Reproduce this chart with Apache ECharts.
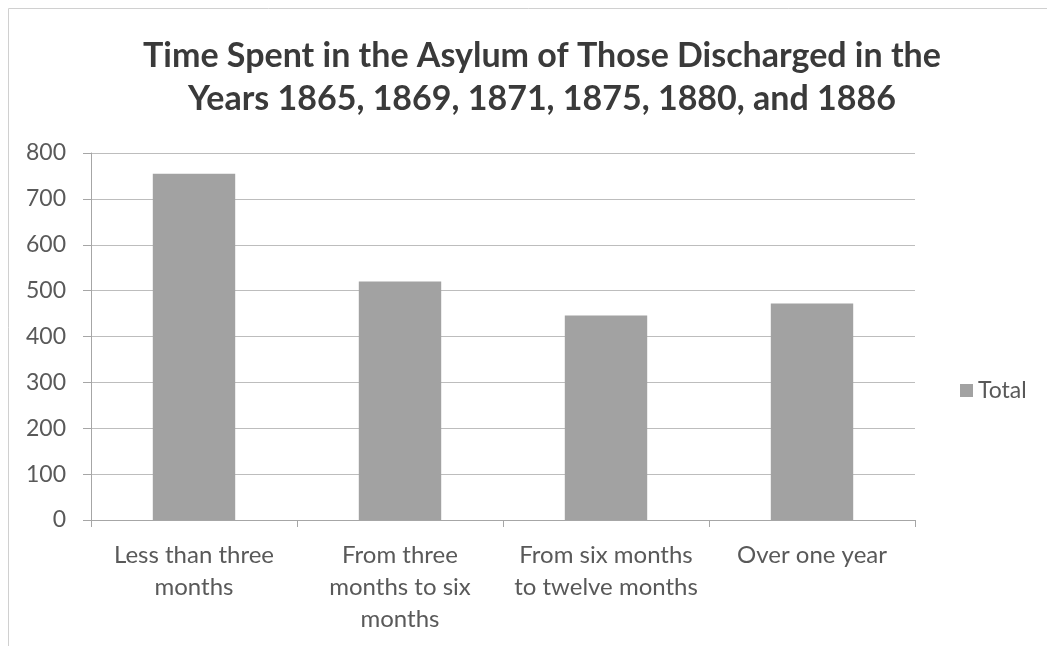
<!DOCTYPE html>
<html><head><meta charset="utf-8">
<script src="https://cdn.jsdelivr.net/npm/echarts@6/dist/echarts.min.js"></script>
<style>html,body{margin:0;padding:0;background:#fff}#c{width:1047px;height:646px}</style>
</head><body><div id="c"></div>
<script>
const titleLines = ['Time Spent in the Asylum of Those Discharged in the', 'Years 1865, 1869, 1871, 1875, 1880, and 1886'];
const categories = ['Less than three\nmonths', 'From three\nmonths to six\nmonths', 'From six months\nto twelve months', 'Over one year'];
const seriesName = 'Total';
const totals = [755, 520, 446, 472];
const yTicks = [0, 800, 100];

const chart = echarts.init(document.getElementById('c'));
chart.setOption({
  animation: false,
  textStyle: { fontFamily: 'Lato' },
  graphic: [{
    type: 'rect', shape: { x: 8.5, y: 8.5, width: 1060, height: 680 },
    style: { fill: 'none', stroke: '#d0d0d0', lineWidth: 1 }, silent: true
  }],
  title: {
    text: titleLines.join('\n'), left: 537, top: 30, textAlign: 'center',
    textStyle: { fontFamily: 'Lato', fontWeight: 'bold', fontSize: 34, color: '#3a3a3a', lineHeight: 43 }
  },
  legend: {
    left: 955, orient: 'vertical', top: 374,
    icon: 'rect', itemWidth: 13, itemHeight: 13, itemGap: 8,
    textStyle: { fontSize: 23, color: '#595959', fontFamily: 'Lato' },
    data: [seriesName]
  },
  grid: { left: 91, right: 132, top: 153, bottom: 126, containLabel: false },
  xAxis: {
    type: 'category', data: categories,
    axisLine: { lineStyle: { color: '#a6a6a6', width: 1 } },
    axisTick: { show: true, alignWithLabel: false, length: 7, lineStyle: { color: '#a6a6a6' } },
    axisLabel: { fontSize: 24, color: '#595959', lineHeight: 32, margin: 19, interval: 0 }
  },
  yAxis: {
    type: 'value', min: yTicks[0], max: yTicks[1], interval: yTicks[2],
    axisLine: { show: true, lineStyle: { color: '#a6a6a6' } },
    axisTick: { show: true, length: 8, lineStyle: { color: '#a6a6a6' } },
    axisLabel: { fontSize: 23, color: '#595959', margin: 25 },
    splitLine: { lineStyle: { color: '#bdbdbd', width: 1 } }
  },
  series: [{
    name: seriesName, type: 'bar', data: totals, barWidth: '40%',
    itemStyle: { color: '#a2a2a2' }
  }]
});
</script></body></html>
